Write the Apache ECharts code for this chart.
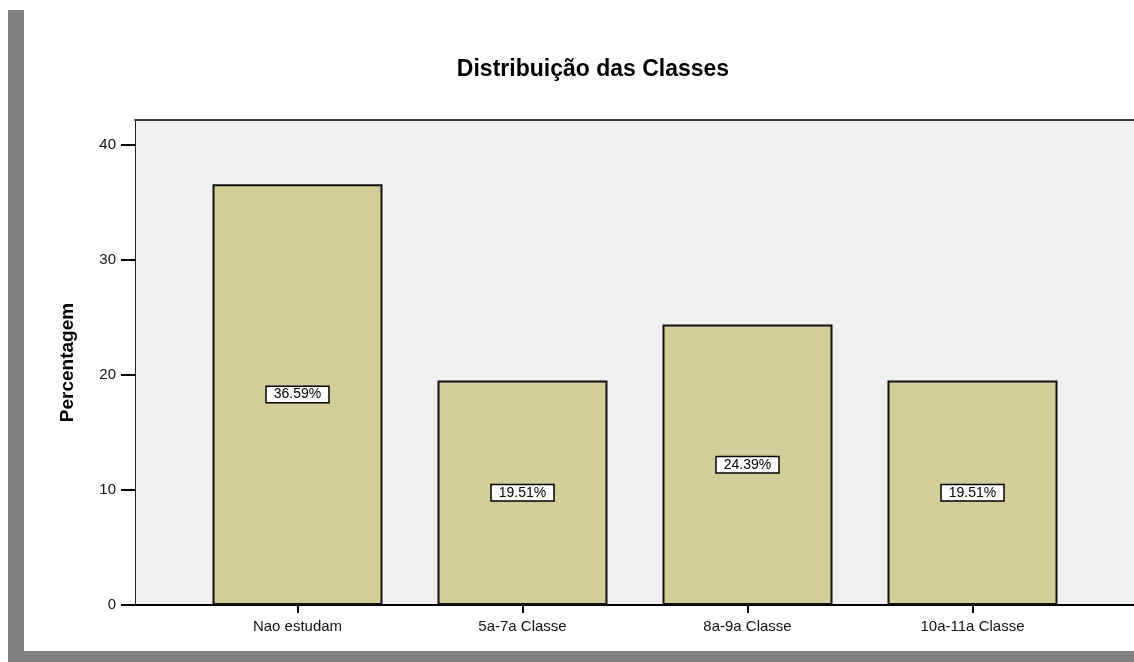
<!DOCTYPE html>
<html>
<head>
<meta charset="utf-8">
<script src="https://cdn.jsdelivr.net/npm/echarts@6/dist/echarts.min.js"></script>
<style>
  html, body { margin: 0; padding: 0; background: #ffffff; }
  #wrap { position: relative; width: 1134px; height: 662px; overflow: hidden; }
  #frameL { position: absolute; left: 8px; top: 10px; width: 16px; height: 652px; background: #808080; }
  #frameB { position: absolute; left: 8px; top: 651px; width: 1126px; height: 11px; background: #808080; }
  #chart { position: absolute; left: 0; top: 0; width: 1134px; height: 662px; }
</style>
</head>
<body>
<div id="wrap">
  <div id="frameL"></div>
  <div id="frameB"></div>
  <div id="chart"></div>
</div>
<script>
const categories = ['Nao estudam', '5a-7a Classe', '8a-9a Classe', '10a-11a Classe'];
const percentages = [36.59, 19.51, 24.39, 19.51];
const yTicks = [0, 10, 20, 30, 40];
const titleText = 'Distribuição das Classes';
const yName = 'Percentagem';

const FONT = "'Liberation Sans', Arial, sans-serif";
const yMax = 42.17;

const chart = echarts.init(document.getElementById('chart'), null, { renderer: 'canvas' });
chart.setOption({
  backgroundColor: 'transparent',
  animation: false,
  title: {
    text: titleText,
    left: 588,
    textAlign: 'center',
    top: 53,
    textStyle: { fontFamily: FONT, fontWeight: 'bold', fontSize: 23, color: '#000' }
  },
  grid: [
    { left: 135, top: 120, right: 0, bottom: 57, show: true, backgroundColor: '#f0f0f0', borderWidth: 0 },
    { left: 185, top: 120, right: 49, bottom: 57 }
  ],
  xAxis: [
    { gridIndex: 0, type: 'value', min: 0, max: 1, position: 'bottom',
      axisLine: { show: true, lineStyle: { color: '#000', width: 2 } },
      axisTick: { show: false }, axisLabel: { show: false }, splitLine: { show: false } },
    { gridIndex: 0, type: 'value', min: 0, max: 1, position: 'top',
      axisLine: { show: true, lineStyle: { color: '#3a3a3a', width: 2 } },
      axisTick: { show: false }, axisLabel: { show: false }, splitLine: { show: false } },
    { gridIndex: 1, type: 'category', data: categories, boundaryGap: true, position: 'bottom',
      axisLine: { show: false },
      axisTick: { show: true, alignWithLabel: true, length: 8, lineStyle: { color: '#000', width: 2 } },
      axisLabel: { margin: 14, fontFamily: FONT, fontSize: 15, color: '#111' },
      splitLine: { show: false } }
  ],
  yAxis: [
    { gridIndex: 0, type: 'value', min: 0, max: yMax, interval: 10,
      name: yName, nameLocation: 'middle', nameGap: 58, nameRotate: 90,
      nameTextStyle: { fontFamily: FONT, fontWeight: 'bold', fontSize: 19, color: '#000' },
      axisLine: { show: true, lineStyle: { color: '#222', width: 1 } },
      axisTick: { show: true, length: 14, lineStyle: { color: '#000', width: 2 }, customValues: yTicks },
      axisLabel: { margin: 19, fontFamily: FONT, fontSize: 15, color: '#111', customValues: yTicks },
      splitLine: { show: false } },
    { gridIndex: 1, type: 'value', min: 0, max: yMax, interval: 10, show: false }
  ],
  series: [{
    type: 'bar',
    xAxisIndex: 2,
    yAxisIndex: 1,
    data: percentages,
    barWidth: 170,
    itemStyle: { color: '#d3cd98', borderColor: '#111', borderWidth: 2 },
    label: {
      show: true,
      position: 'inside',
      formatter: p => p.value.toFixed(2) + '%',
      fontFamily: FONT, fontSize: 14, color: '#000', lineHeight: 15,
      backgroundColor: '#fff', borderColor: '#000', borderWidth: 1.5, padding: [0, 7]
    }
  }]
});
</script>
</body>
</html>
